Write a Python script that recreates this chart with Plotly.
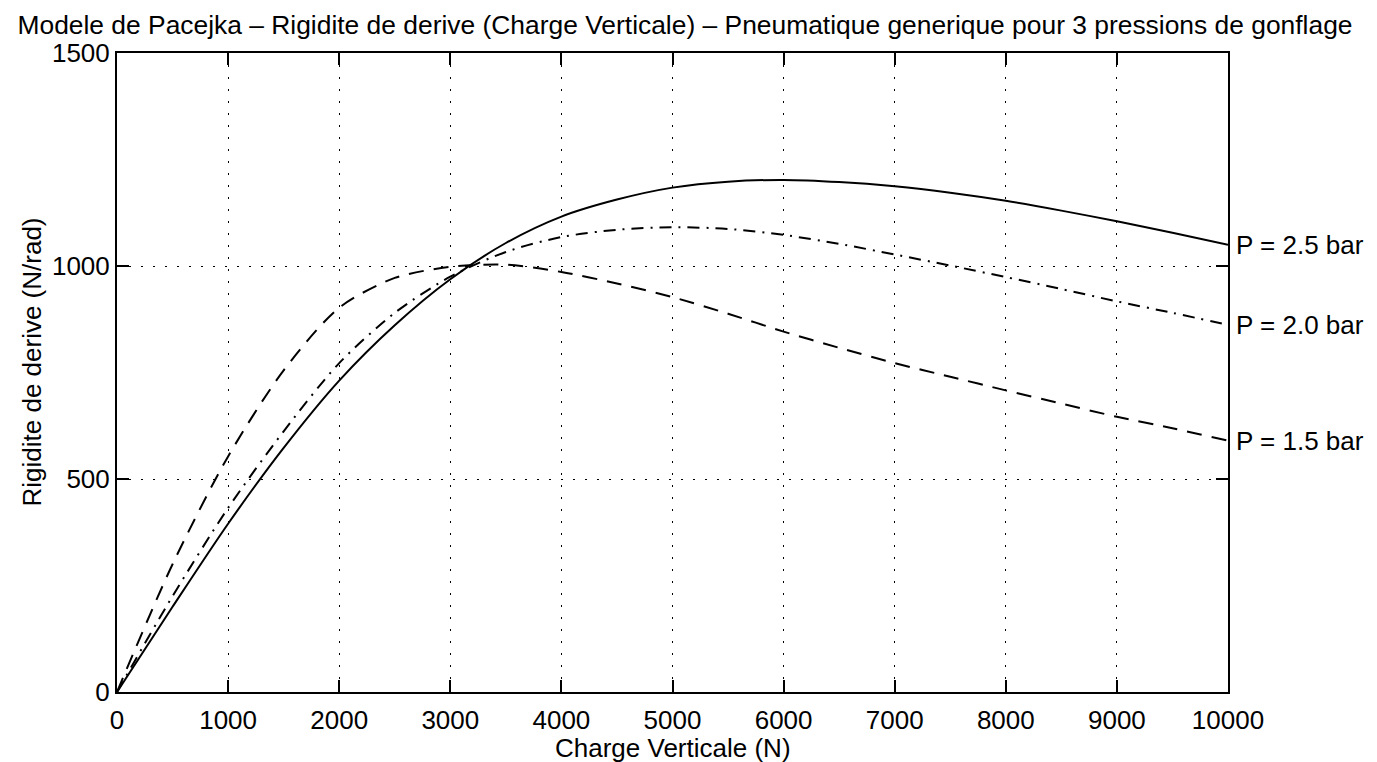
import plotly.graph_objects as go

charge = [0, 500, 1000, 1500, 2000, 2500, 3000, 3500, 4000, 4500, 5000,
          5500, 6000, 6500, 7000, 7500, 8000, 8500, 9000, 9500, 10000]
p25 = [0, 200, 395, 573, 731, 861, 969, 1054, 1116, 1156, 1184,
       1198, 1202, 1197, 1187, 1172, 1153, 1130, 1105, 1078, 1050]
p20 = [0, 225, 432, 612, 772, 890, 975, 1033, 1068, 1085, 1091,
       1087, 1073, 1052, 1027, 1001, 974, 946, 917, 890, 862]
p15 = [0, 300, 553, 755, 902, 972, 998, 1003, 986, 959, 927,
       888, 846, 808, 772, 740, 708, 677, 646, 619, 590]
labels = ["P = 2.5 bar", "P = 2.0 bar", "P = 1.5 bar"]
xticks = [0, 1000, 2000, 3000, 4000, 5000, 6000, 7000, 8000, 9000, 10000]
yticks = [0, 500, 1000, 1500]

FONT = "Liberation Sans"
FS = 26
W, H = 1369, 754

fig = go.Figure()
series = [(p25, "solid"), (p20, "12px,7px,2px,7px"), (p15, "15px,10px")]
for vals, dash in series:
    fig.add_trace(go.Scatter(x=charge, y=vals, mode="lines",
                             line=dict(color="black", width=2, dash=dash, shape="spline", smoothing=0.8),
                             showlegend=False, hoverinfo="skip"))

for vals, lab in zip([p25, p20, p15], labels):
    fig.add_annotation(x=charge[-1], y=vals[-1], text=lab, showarrow=False,
                       xanchor="left", yanchor="middle", xshift=6,
                       font=dict(family=FONT, size=FS, color="black"))

# axis titles
fig.add_annotation(x=0.5, y=0, xref="paper", yref="paper", text="Charge Verticale (N)",
                   showarrow=False, xanchor="center", yanchor="middle", yshift=-56,
                   font=dict(family=FONT, size=FS, color="black"))
fig.add_annotation(x=0, y=0.5, xref="paper", yref="paper", text="Rigidite de derive (N/rad)",
                   showarrow=False, xanchor="center", yanchor="middle", xshift=-86, yshift=10,
                   textangle=-90, font=dict(family=FONT, size=FS, color="black"))

axis_common = dict(showline=True, linecolor="black", linewidth=2, mirror="ticks",
                   ticks="inside", ticklen=12, tickwidth=1.5, tickcolor="black",
                   showgrid=True, gridcolor="black", gridwidth=1.2, griddash="1.5px,10.5px",
                   zeroline=False, automargin=False,
                   tickfont=dict(family=FONT, size=FS, color="black"))

fig.update_xaxes(range=[0, 10000], tickvals=xticks, ticktext=[str(v) for v in xticks],
                 ticklabelstandoff=4, **axis_common)
fig.update_yaxes(range=[0, 1500], tickvals=yticks, ticktext=[str(v) for v in yticks],
                 **axis_common)

fig.update_layout(
    width=W, height=H,
    margin=dict(l=109, r=149, t=45, b=70, autoexpand=False),
    paper_bgcolor="white", plot_bgcolor="white",
    title=dict(text="Modele de Pacejka – Rigidite de derive (Charge Verticale) – Pneumatique generique pour 3 pressions de gonflage",
               font=dict(family=FONT, size=26.4, color="black"),
               x=677 / W, xref="container", xanchor="center",
               y=1 - 17 / H, yref="container", yanchor="middle"),
)

fig.write_html("out.html")
